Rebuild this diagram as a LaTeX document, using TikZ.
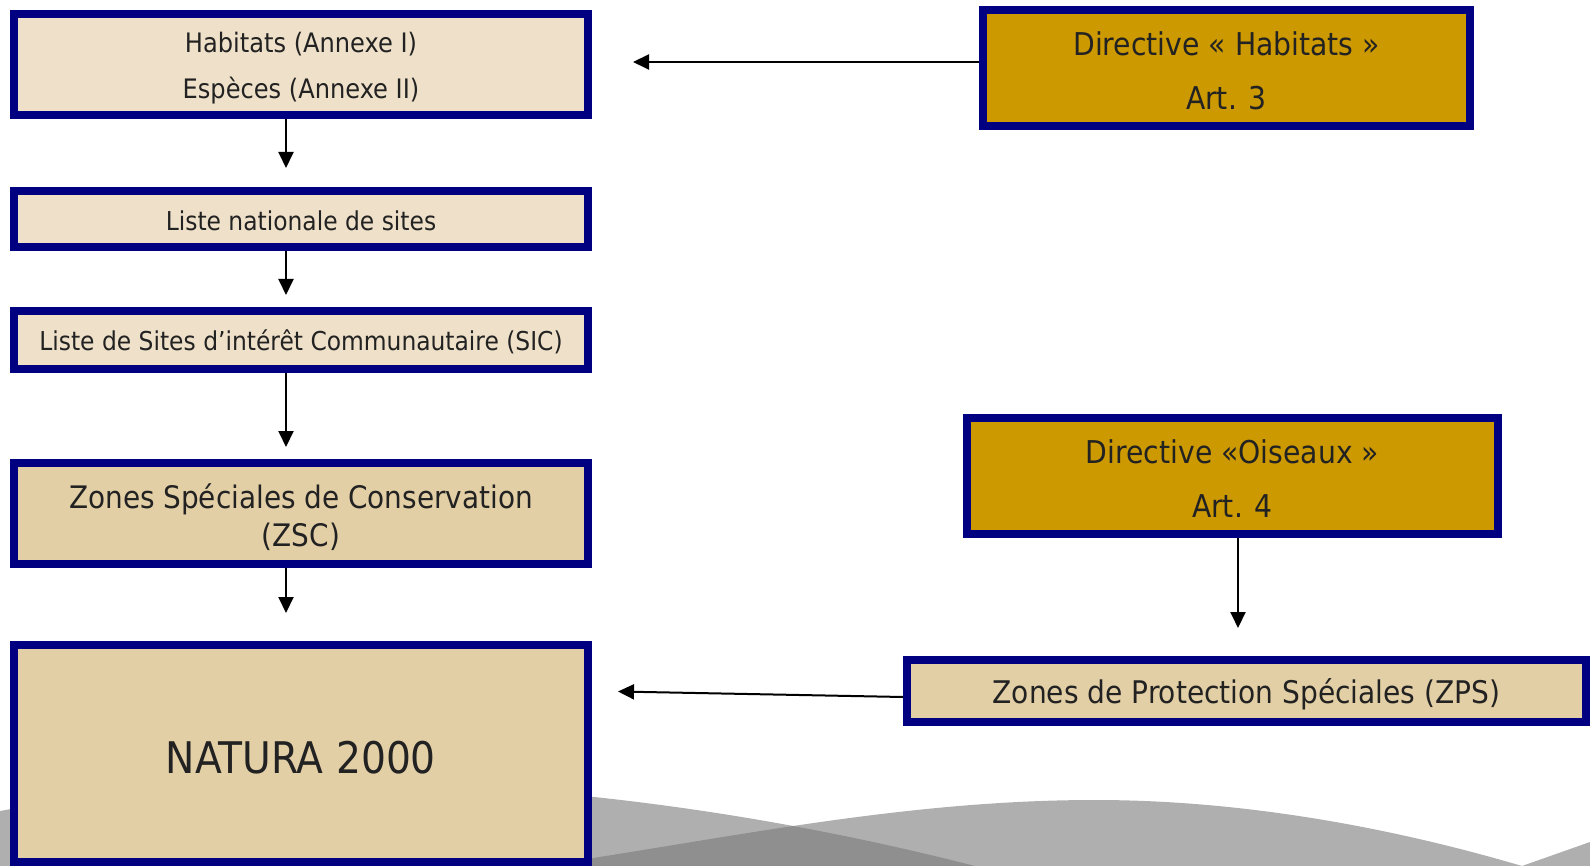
\documentclass[tikz,border=0pt]{standalone}
\usepackage{fontspec}
\setmainfont{DejaVu Sans Condensed}
\usepackage{tikz}
\usetikzlibrary{arrows.meta}
\definecolor{navy}{HTML}{000080}
\definecolor{paleb}{HTML}{EFE1C9}
\definecolor{sandb}{HTML}{E3CFA6}
\definecolor{goldb}{HTML}{CC9900}
\definecolor{ink}{HTML}{222222}
\definecolor{wave}{HTML}{7A7A7A}

\begin{document}
\begin{tikzpicture}[x=0.5pt, y=-0.5pt,
    box/.style={draw=navy, line width=4pt, inner sep=0pt, align=center, text=ink, text depth=0pt},
    pale/.style={box, fill=paleb},
    sand/.style={box, fill=sandb},
    gold/.style={box, fill=goldb},
    arr/.style={-{Triangle[length=8pt,width=7.5pt]}, line width=1pt, draw=black}]
    \useasboundingbox (0,0) rectangle (1590,866);

    \fill[wave, fill opacity=0.6] (0,866) -- (0,811) .. controls (250,765) and (600,770) .. (975,866) -- cycle;
    \fill[wave, fill opacity=0.6] (540,866) .. controls (720,840) and (900,800) .. (1095,800)
        .. controls (1250,800) and (1400,830) .. (1522,866) -- cycle;
    \fill[wave, fill opacity=0.6] (1522,866) -- (1590,842) -- (1590,866) -- cycle;

    \node[pale, minimum width=287pt, minimum height=50.5pt, text height=34.2pt, font=\fontsize{13.4}{23}\selectfont]
        (annexes) at (301,64.5) {Habitats (Annexe I)\\Espèces (Annexe II)};
    \node[pale, minimum width=287pt, minimum height=28pt, text height=11.9pt, font=\fontsize{13}{15}\selectfont]
        (nationale) at (301,219) {Liste nationale de sites};
    \node[pale, minimum width=287pt, minimum height=29pt, font=\fontsize{13}{15}\selectfont]
        (sic) at (301,340) {Liste de Sites d’intérêt Communautaire (SIC)};
    \node[sand, minimum width=287pt, minimum height=50.5pt, text height=33.4pt, font=\fontsize{15.5}{19}\selectfont]
        (zsc) at (301,513.5) {Zones Spéciales de Conservation\\(ZSC)};
    \node[sand, minimum width=287pt, minimum height=108.5pt, text height=19.9pt, font=\fontsize{21.8}{26}\selectfont]
        (natura) at (301,753.5) {NATURA 2000};

    \node[gold, minimum width=243.5pt, minimum height=58pt, text height=41.9pt, font=\fontsize{15.7}{27}\selectfont]
        (habitats) at (1226.5,68) {Directive « Habitats »\\Art. 3};
    \node[gold, minimum width=265.5pt, minimum height=58pt, text height=41.4pt, font=\fontsize{15.7}{27}\selectfont]
        (oiseaux) at (1232.5,476) {Directive «Oiseaux »\\Art. 4};
    \node[sand, minimum width=339.5pt, minimum height=31pt, font=\fontsize{15.6}{18}\selectfont]
        (zps) at (1246.5,691) {Zones de Protection Spéciales (ZPS)};

    \coordinate (col) at (286,0);
    \coordinate (colr) at (1238,0);

    \draw[arr, shorten >=9.5pt] (annexes.south -| col) -- (nationale.north -| col);
    \draw[arr, shorten >=6pt] (nationale.south -| col) -- (sic.north -| col);
    \draw[arr, shorten >=6pt] (sic.south -| col) -- (zsc.north -| col);
    \draw[arr, shorten >=14pt] (zsc.south -| col) -- (natura.north -| col);
    \draw[arr, shorten >=14pt] (oiseaux.south -| colr) -- (zps.north -| colr);
    \draw[arr, shorten >=20.5pt] ([yshift=3pt]habitats.west) -- ([yshift=3pt]habitats.west -| annexes.east);
    \draw[arr, shorten >=13pt] ([yshift=-3pt]zps.west) -- (natura.east |- zps.west);
\end{tikzpicture}
\end{document}
